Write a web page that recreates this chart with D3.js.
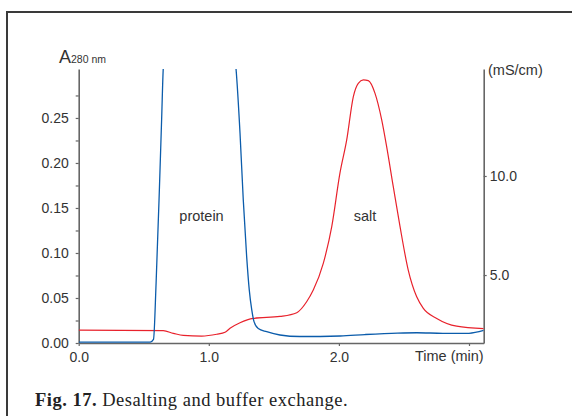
<!DOCTYPE html>
<html>
<head>
<meta charset="utf-8">
<script src="https://cdn.jsdelivr.net/npm/d3@7"></script>
<style>
  html, body { margin: 0; padding: 0; background: #fff; }
  svg { display: block; }
  text { font-family: "Liberation Sans", Arial, sans-serif; fill: #333; }
  .caption { font-family: "Liberation Serif", "Times New Roman", serif; fill: #222; }
</style>
</head>
<body>
<svg id="chart" width="572" height="416"></svg>
<script>
// Time axis (min)
const timeTicks = [0, 1, 2, 3];
const timeLabels = ["0.0", "1.0", "2.0", ""];

// Absorbance (A280) ticks, major every 0.05, minor in between
const absTicks = [0, 0.025, 0.05, 0.075, 0.10, 0.125, 0.15, 0.175, 0.20, 0.225, 0.25, 0.275];
// Conductivity ticks (mS/cm)
const condTicks = [5, 10];

// Protein trace: time (min) and A280
const proteinTime = [0.00, 0.30, 0.55, 0.575, 0.595, 0.62, 0.638, 0.65, 0.67, 0.90, 1.19, 1.209, 1.240, 1.265, 1.291, 1.311, 1.330, 1.347, 1.380, 1.445, 1.547, 1.70, 2.01, 2.20, 2.45, 2.60, 2.80, 3.00, 3.113];
const proteinA280 = [0.001, 0.001, 0.001, 0.004, 0.067, 0.170, 0.251, 0.305, 0.330, 0.450, 0.330, 0.305, 0.233, 0.159, 0.096, 0.059, 0.037, 0.024, 0.016, 0.0126, 0.0089, 0.0072, 0.0078, 0.0094, 0.0110, 0.0114, 0.0108, 0.0108, 0.0139];

// Salt trace: time (min) and conductivity (mS/cm)
const saltTime = [0.00, 0.650, 0.727, 0.804, 0.945, 1.061, 1.125, 1.163, 1.240, 1.342, 1.547, 1.676, 1.752, 1.803, 1.880, 1.945, 2.008, 2.060, 2.111, 2.149, 2.188, 2.226, 2.277, 2.329, 2.367, 2.418, 2.470, 2.533, 2.598, 2.649, 2.752, 2.905, 3.113];
const saltCond = [2.22, 2.19, 2.06, 1.95, 1.92, 2.01, 2.11, 2.31, 2.59, 2.81, 2.91, 3.10, 3.65, 4.24, 5.59, 7.44, 10.14, 11.82, 14.01, 14.68, 14.85, 14.81, 14.18, 12.83, 11.48, 9.46, 7.44, 5.25, 3.90, 3.32, 2.81, 2.42, 2.30];

const svg = d3.select("#chart");

// Page frame: left and top rules
svg.append("path")
  .attr("d", "M7,416V12H572")
  .attr("fill", "none")
  .attr("stroke", "#3a3a3a")
  .attr("stroke-width", 2);

const x = d3.scaleLinear().domain([0, 3.113]).range([78.7, 483.7]);
const yA = d3.scaleLinear().domain([0, 0.3044]).range([343, 69]);
const yS = d3.scaleLinear().domain([1.57, 15.4]).range([343, 69]);

// Clip traces to the plotting area
svg.append("defs").append("clipPath").attr("id", "plot")
  .append("rect")
  .attr("x", x(0)).attr("y", yA.range()[1])
  .attr("width", x.range()[1] - x.range()[0])
  .attr("height", yA.range()[0] - yA.range()[1]);

const axisColor = "#666";

function styleAxis(g) {
  g.selectAll(".domain").attr("stroke", axisColor).attr("stroke-width", 1.6);
  g.selectAll(".tick line").attr("stroke", axisColor).attr("stroke-width", 1.2);
  g.selectAll(".tick text").attr("fill", "#333").style("font-size", "14px")
    .style("font-family", "'Liberation Sans', Arial, sans-serif");
}

// Left axis: absorbance
const gL = svg.append("g")
  .attr("transform", `translate(${x(0)},0)`)
  .call(d3.axisLeft(yA)
    .tickValues(absTicks)
    .tickSize(3).tickSizeOuter(0).tickPadding(7)
    .tickFormat((d, i) => i % 2 === 0 ? d3.format(".2f")(d) : ""));
styleAxis(gL);

// Right axis: conductivity
const gR = svg.append("g")
  .attr("transform", `translate(${x.range()[1]},0)`)
  .call(d3.axisRight(yS)
    .tickValues(condTicks)
    .tickSize(3).tickSizeOuter(0).tickPadding(3)
    .tickFormat(d3.format(".1f")));
styleAxis(gR);

// Bottom axis: time
const gB = svg.append("g")
  .attr("transform", `translate(0,${yA.range()[0]})`)
  .call(d3.axisBottom(x)
    .tickValues(timeTicks)
    .tickSize(3).tickSizeOuter(0).tickPadding(4)
    .tickFormat((d, i) => timeLabels[i]));
styleAxis(gB);
gB.selectAll(".tick text").attr("dy", "0.85em");

// Axis titles
const aTitle = svg.append("text").attr("x", 59).attr("y", 63);
aTitle.append("tspan").text("A").style("font-size", "18px");
aTitle.append("tspan").text("280 nm").style("font-size", "10.5px");

svg.append("text").attr("x", 488).attr("y", 75)
  .style("font-size", "14.5px").text("(mS/cm)");

svg.append("text").attr("x", x.range()[1]).attr("y", 361)
  .attr("text-anchor", "end")
  .style("font-size", "14.5px").text("Time (min)");

// Traces
const line = d3.line().curve(d3.curveMonotoneX);
const plot = svg.append("g").attr("clip-path", "url(#plot)");

plot.append("path")
  .attr("d", line(saltTime.map((t, i) => [x(t), yS(saltCond[i])])))
  .attr("fill", "none").attr("stroke", "#e8222c").attr("stroke-width", 1.2);

plot.append("path")
  .attr("d", line(proteinTime.map((t, i) => [x(t), yA(proteinA280[i])])))
  .attr("fill", "none").attr("stroke", "#0b5cab").attr("stroke-width", 1.3);

// Peak labels
svg.append("text").attr("x", 201.5).attr("y", 221).attr("text-anchor", "middle")
  .style("font-size", "14.5px").text("protein");
svg.append("text").attr("x", 365).attr("y", 221).attr("text-anchor", "middle")
  .style("font-size", "14.5px").text("salt");

// Caption
const cap = svg.append("text").attr("class", "caption").attr("x", 35).attr("y", 406)
  .style("font-size", "18.5px").style("letter-spacing", "0.5px");
cap.append("tspan").attr("font-weight", "bold").text("Fig. 17.");
cap.append("tspan").text(" Desalting and buffer exchange.");
</script>
</body>
</html>
